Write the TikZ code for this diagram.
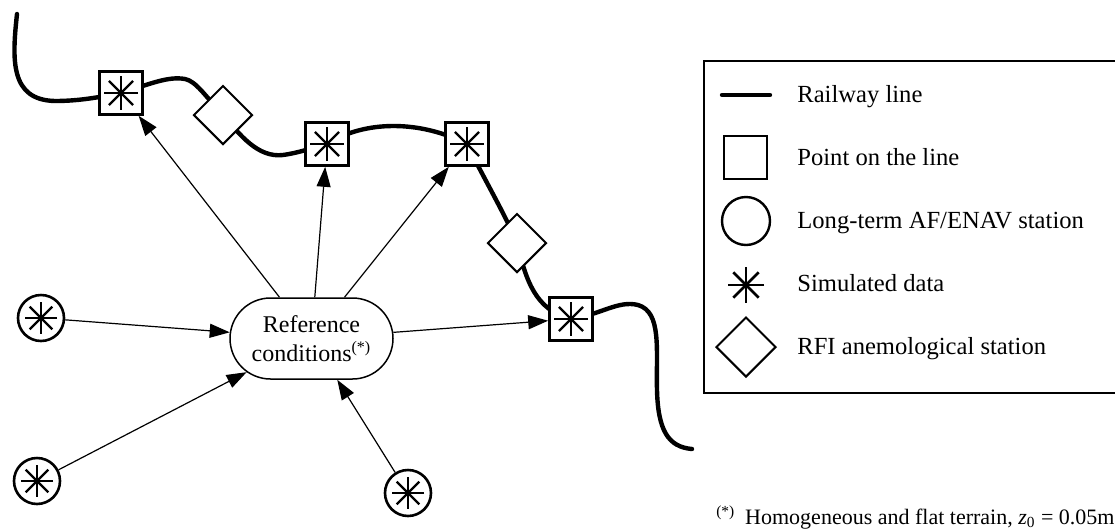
\documentclass[tikz,border=0pt]{standalone}
\usepackage{fontspec}
\setmainfont{Liberation Serif}
\usetikzlibrary{shapes.geometric,shapes.misc,arrows.meta}
\pgfdeclarelayer{background}
\pgfsetlayers{background,main}
\newcommand\myastk[2]{\foreach \a in {0,45,90,135}{\draw[line width=#2] (path picture bounding box.center) ++(\a:#1) -- ++(\a+180:2*#1);}}
\begin{document}
\begin{tikzpicture}[x=0.5pt,y=-0.5pt,
  font=\fontsize{12pt}{14.5pt}\selectfont,
  rail/.style={line width=2.2pt, line cap=round},
  arr/.style={line width=0.6pt, -{Triangle[length=10pt,width=7pt]}},
  ptbox/.style={rectangle, draw, line width=1.3pt, fill=white, minimum size=21.5pt, inner sep=0pt,
     path picture={\myastk{8.5pt}{1.1pt}}},
  simc/.style={circle, draw, line width=1.3pt, fill=white, minimum size=23pt, inner sep=0pt,
     path picture={\myastk{8pt}{1.1pt}}},
  rfi/.style={diamond, draw, line width=1pt, fill=white, minimum width=29.5pt, minimum height=29.5pt, inner sep=0pt},
  refnode/.style={rounded rectangle, draw, line width=0.75pt, fill=white, minimum width=85.5pt, minimum height=40.5pt, align=center, inner sep=2pt},
  legtext/.style={anchor=base west, inner sep=0pt, font=\fontsize{12.3pt}{14.5pt}\selectfont}
]
\useasboundingbox (0,0) rectangle (1115,531);

% railway stations / points
\node[ptbox] (s1) at (121,93) {};
\node[rfi] (d1) at (223,115) {};
\node[ptbox] (s2) at (327,144) {};
\node[ptbox] (s3) at (467,144) {};
\node[rfi] (d2) at (517,243) {};
\node[ptbox] (s4) at (571,319) {};
\coordinate (r0) at (17,14);
\coordinate (r9) at (692,449);

% reference node and simulated stations
\node[refnode] (ref) at (311.5,338.5) {Reference\\conditions\textsuperscript{(*)}};
\node[simc] (c1) at (41,318) {};
\node[simc] (c2) at (37,481) {};
\node[simc] (c3) at (408,493) {};

% railway line
\begin{pgfonlayer}{background}
\draw[rail] (r0) .. controls (12,60) and (10,100) .. (55,101)
  .. controls (80,101) and (100,97) .. (s1.center)
  .. controls (150,84) and (168,76) .. (185,79)
  .. controls (196,81) and (206,97) .. (d1.center)
  .. controls (240,135) and (258,158) .. (283,155)
  .. controls (298,153) and (312,148) .. (s2.center)
  .. controls (365,120) and (420,120) .. (s3.center)
  .. controls (482,175) and (507,218) .. (d2.center)
  .. controls (526,280) and (535,310) .. (s4.center)
  .. controls (600,315) and (618,300) .. (638,305)
  .. controls (662,312) and (656,350) .. (657,390)
  .. controls (658,430) and (668,447) .. (r9);
\end{pgfonlayer}

% connectors
\draw[arr] (ref) -- (s1);
\draw[arr] (ref) -- (s2);
\draw[arr] (ref) -- (s3);
\draw[arr] (ref) -- (s4);
\draw[arr] (c1) -- (ref);
\draw[arr] (c2) -- (ref);
\draw[arr] (c3) -- (ref);

% legend
\draw[line width=0.75pt] (1125,61) -- (704,61) -- (704,393) -- (1125,393);
\coordinate (lra) at (722,95);
\coordinate (lrb) at (770,95);
\draw[rail] (lra) -- (lrb);
\node[rectangle, draw, line width=1.2pt, minimum size=21.5pt, inner sep=0pt] (lsq) at (745.5,157.5) {};
\node[circle, draw, line width=1.2pt, minimum size=24pt, inner sep=0pt] (lci) at (746,221) {};
\coordinate (lst) at (746,285);
\foreach \a in {0,45,90,135}{\draw[line width=1.3pt] (lst) ++(\a:9pt) -- ++(\a+180:18pt);}
\node[diamond, draw, line width=1pt, minimum width=30pt, minimum height=30pt, inner sep=0pt] (ldi) at (746,347) {};

\node[legtext] (t1) at (797,102) {Railway line};
\node[legtext] (t2) at (797,165) {Point on the line};
\node[legtext] (t3) at (797,228) {Long-term AF/ENAV station};
\node[legtext] (t4) at (797,291) {Simulated data};
\node[legtext] (t5) at (797,354) {RFI anemological station};

% footnote
\node[anchor=base east, inner sep=0pt, font=\fontsize{11pt}{13pt}\selectfont] (fn) at (1115,524)
  {\textsuperscript{(*)}\hspace{5pt}Homogeneous and flat terrain, \textit{z}\textsubscript{0} = 0.05m};
\end{tikzpicture}
\end{document}
